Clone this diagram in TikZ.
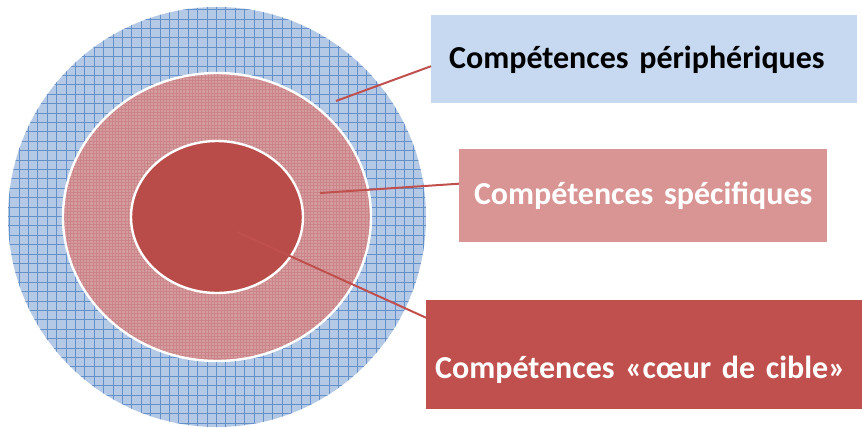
\documentclass[tikz,border=0pt]{standalone}
\usepackage{fontspec}
\setmainfont{Carlito}
\usetikzlibrary{positioning}
\definecolor{bluefill}{HTML}{B3C9E6}
\definecolor{bluegrid}{HTML}{6690CA}
\definecolor{pinkfill}{HTML}{D49C9F}
\definecolor{pinkgrid}{HTML}{CB8487}
\definecolor{coreRed}{HTML}{B94C49}
\definecolor{periBox}{HTML}{C6D9F1}
\definecolor{specBox}{HTML}{D99594}
\definecolor{coeurBox}{HTML}{C0504D}

\begin{document}
\begin{tikzpicture}[x=1pt,y=-1pt]
		\tikzstyle{ring}=[draw=white, line width=2.4pt]
		\tikzstyle{cbox}=[rectangle, anchor=north west, inner ysep=0pt, font=\bfseries\fontsize{32}{38}\selectfont]
		\tikzstyle{link}=[draw=coeurBox, line width=2pt]
		
		\useasboundingbox (0,0) rectangle (862,428);
		
		% outer ring
		\fill[bluefill] (217,217) ellipse (209 and 210);
		\begin{scope}
			\clip (217,217) ellipse (209 and 210);
			\draw[bluegrid, line width=0.4pt, step=9.4pt] (0,0) grid (440,430);
		\end{scope}
		
		% middle ring
		\fill[pinkfill] (217,217) ellipse (154 and 144);
		\begin{scope}
			\clip (217,217) ellipse (154 and 144);
			\draw[pinkgrid, line width=0.25pt, step=3.2pt] (0,0) grid (440,430);
		\end{scope}
		\draw[ring] (217,217) ellipse (154 and 144);
		
		% core
		\fill[coreRed] (217,217) ellipse (86 and 76);
		\draw[ring] (217,217) ellipse (86 and 76);
		
		\coordinate (p) at (336,101);
		\coordinate (s) at (320,193);
		\coordinate (c) at (237,232);
		
		\node[cbox, fill=periBox, text=black, inner xsep=18pt, text width=390pt, align=left, text height=53pt, text depth=35pt] (peri) at (431,15) {Compétences périphériques};
		\node[cbox, fill=specBox, text=white, inner xsep=0pt, text width=368pt, align=center, text height=55pt, text depth=38pt] (spec) at (459,149) {Compétences spécifiques};
		\node[cbox, fill=coeurBox, text=white, inner xsep=9pt, text width=418pt, align=left, text height=78pt, text depth=31pt] (coeur) at (426,300) {Compétences «cœur de cible»};
		
		\draw[link] (p) -- ([yshift=-7pt]peri.west);
		\draw[link] (s) -- ([yshift=12pt]spec.west);
		\draw[link] (c) -- ([yshift=37pt]coeur.west);
\end{tikzpicture}
\end{document}
